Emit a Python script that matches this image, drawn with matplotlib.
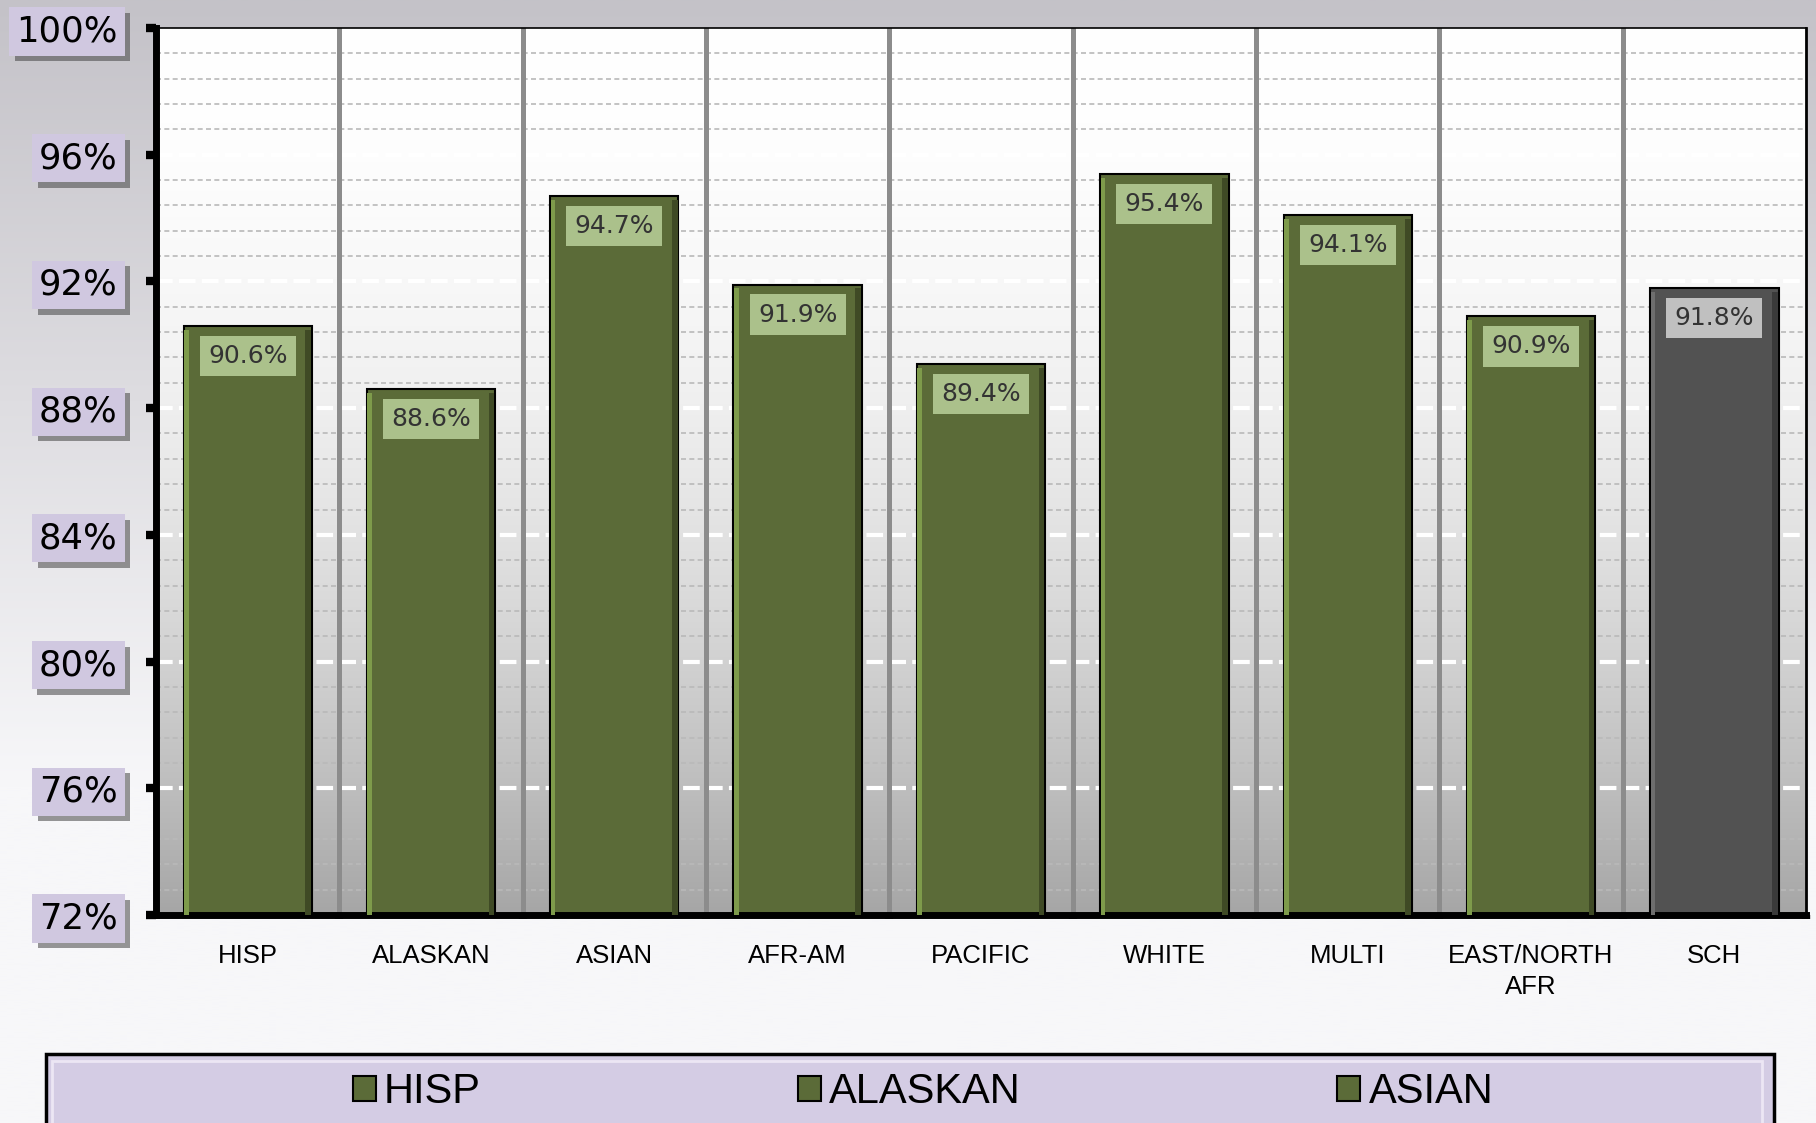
# -*- coding: utf-8 -*-
import matplotlib
matplotlib.use("Agg")
import matplotlib.pyplot as plt
import numpy as np
from matplotlib.patches import Patch, Rectangle
from matplotlib.ticker import MultipleLocator, FixedLocator
import matplotlib.patheffects as pe

# data ----------------------------
categories = ['HISP', 'ALASKAN', 'ASIAN', 'AFR-AM', 'PACIFIC', 'WHITE',
              'MULTI', 'EAST/NORTH\nAFR', 'SCH']
values = [90.6, 88.6, 94.7, 91.9, 89.4, 95.4, 94.1, 90.9, 91.8]
legend_labels = ['HISP', 'ALASKAN', 'ASIAN']
yticks = [72, 76, 80, 84, 88, 92, 96, 100]
# --------------------------------

W, H = 1816, 1123
narrow = ['Liberation Sans Narrow', 'Liberation Sans', 'DejaVu Sans']

green = '#5b6b38'
grey_bar = '#525252'
bar_colors = [green] * (len(values) - 1) + [grey_bar]
label_box = ['#abc18b'] * (len(values) - 1) + ['#c0c0c0']

fig = plt.figure(figsize=(W / 100, H / 100), dpi=100)

# figure background gradient
bg = fig.add_axes([0, 0, 1, 1], zorder=-10)
t = np.linspace(0, 1, 400)
top = np.array([196, 194, 200]) / 255
bot = np.array([247, 247, 249]) / 255
f = np.clip(t / 0.7, 0, 1)[:, None]
grad = top * (1 - f) + bot * f
bg.imshow(grad[:, None, :], aspect='auto', extent=[0, 1, 0, 1])
bg.set_axis_off()

# main axes
left, right, topy, bottom = 156, 1806, 28, 915
ax = fig.add_axes([left / W, 1 - bottom / H, (right - left) / W, (bottom - topy) / H])
n = len(values)
x = np.arange(n)
ax.set_xlim(-0.5, n - 0.5)
ax.set_ylim(72, 100)

# plot area gradient
tt = np.linspace(0, 1, 300)
g = 1 - 0.35 * tt ** 2
ax.imshow(np.repeat(g[:, None, None], 3, axis=2), aspect='auto',
          extent=[-0.5, n - 0.5, 72, 100], zorder=0)

ax.set_axisbelow(True)
ax.yaxis.set_major_locator(FixedLocator(yticks))
ax.yaxis.set_minor_locator(MultipleLocator(0.8))
ax.grid(which='minor', axis='y', color='#b9b9b9', linestyle=(0, (3, 2)), linewidth=1.2)
ax.grid(which='major', axis='y', color='white', linestyle=(0, (4, 1.5)), linewidth=3)

for b in np.arange(0.5, n - 0.5, 1):
    ax.axvline(b, color='#8c8c8c', linewidth=3.6, zorder=1)

bw = 0.70
ax.bar(x, values, width=bw, color=bar_colors, edgecolor='black', linewidth=1.5, zorder=2)
# bevel strips
ax.bar(x - bw / 2 + 0.015, np.array(values) - 0.12, width=0.025,
       color=['#7e9b4b'] * (n - 1) + ['#6e6e6e'], linewidth=0, zorder=3)
ax.bar(x + bw / 2 - 0.02, np.array(values) - 0.12, width=0.03,
       color=['#3f4a25'] * (n - 1) + ['#3a3a3a'], linewidth=0, zorder=3)

for xi, v, c in zip(x, values, label_box):
    ax.annotate(f'{v:.1f}%', xy=(xi, v), xytext=(0, -13), textcoords='offset points',
                ha='center', va='top', fontsize=18, color='#333333',
                family='DejaVu Sans', zorder=5,
                bbox=dict(boxstyle='square,pad=0.33', facecolor=c, edgecolor='none'))

# spines / ticks
for s in ['left', 'bottom']:
    ax.spines[s].set_linewidth(5)
    ax.spines[s].set_color('black')
ax.spines['top'].set_linewidth(1.2)
ax.spines['right'].set_linewidth(2)

ax.set_xticks(x)
ax.set_xticklabels(categories, fontsize=18.5, family=narrow, linespacing=1.35)
ax.set_xticks(np.arange(-0.5, n, 1), minor=True)
ax.tick_params(axis='x', which='major', length=0, pad=21)
ax.tick_params(axis='x', which='minor', length=3, width=6, direction='out', color='black')
ax.tick_params(axis='y', which='minor', length=0)
ax.tick_params(axis='y', which='major', length=7, width=6, direction='out', pad=20.5,
               color='black')
ax.set_yticklabels([f'{v}%' for v in yticks], fontsize=25.5, family='DejaVu Sans')
for lab in ax.get_yticklabels():
    lab.set_bbox(dict(boxstyle='square,pad=0.2', facecolor='#d0c8e0', edgecolor='none'))
    lab.get_bbox_patch().set_path_effects(
        [pe.SimplePatchShadow(offset=(4, -4), shadow_rgbFace='#444444', alpha=0.55), pe.Normal()])

# legend frame
fig.patches.append(Rectangle((46 / W, -0.02), (1774 - 46) / W, (H - 1054) / H + 0.02,
                             transform=fig.transFigure, facecolor='#d4cce4',
                             edgecolor='black', linewidth=2.5, zorder=1))
fig.patches.append(Rectangle((52 / W, -0.02), (1762 - 52) / W, (H - 1061) / H + 0.02,
                             transform=fig.transFigure, facecolor='none',
                             edgecolor='#ece6f4', linewidth=2, zorder=1))
handles = [Patch(facecolor=green, edgecolor='black', linewidth=1.5) for _ in legend_labels]
fig.legend(handles, legend_labels, ncol=3, loc='center',
           bbox_to_anchor=(923 / W, 1 - 1092 / H), frameon=False,
           prop={'family': narrow, 'size': 30}, columnspacing=7.6,
           handlelength=0.55, handleheight=0.55, handletextpad=0.2)

fig.savefig('out.png', dpi=100)
